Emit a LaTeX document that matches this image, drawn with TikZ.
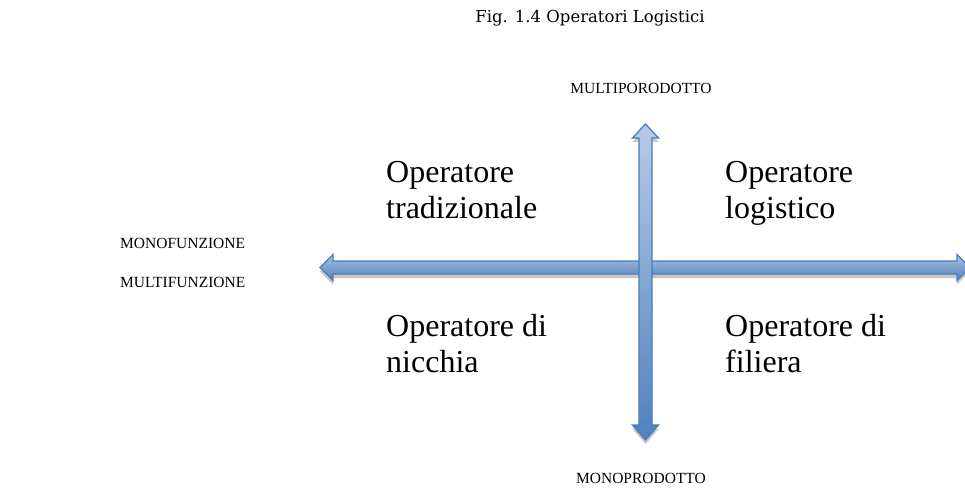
\documentclass[tikz,border=0pt]{standalone}
\usepackage{fontspec}
\setmainfont{Liberation Serif}
\newfontfamily\captionfont{DejaVu Serif}
\usetikzlibrary{shadows,positioning}
\definecolor{axisline}{RGB}{74,126,187}
\definecolor{axislight}{RGB}{170,194,226}
\definecolor{axisdark}{RGB}{79,129,189}
\tikzset{
  axisarrow/.style={draw=axisline, line width=1.3pt, line join=miter,
    drop shadow={shadow xshift=0pt, shadow yshift=-4pt, opacity=0.22, fill=black}},
  quadrant/.style={font=\fontsize{32}{36.5}\selectfont, align=left, anchor=north west, inner sep=0pt},
  polelabel/.style={font=\fontsize{15.5}{18}\selectfont, inner sep=0pt}
}

\begin{document}
\begin{tikzpicture}[x=1pt,y=-1pt]
    \clip (0,0) rectangle (965,488);
    \fill[white] (0,0) rectangle (965,488);

    % Title
    \node[font=\captionfont\fontsize{16.5}{19}\selectfont, inner sep=0pt] (title) at (590,18) {Fig. 1.4 Operatori Logistici};

    % Horizontal axis (right tip runs off the page)
    \path[axisarrow, top color=axislight, bottom color=axisdark]
      (320,267.5) -- (333,254.5) -- (333,261) -- (957,261) -- (957,254.5)
      -- (970,267.5) -- (957,280.5) -- (957,274) -- (333,274) -- (333,280.5) -- cycle;

    % Vertical axis
    \path[axisarrow, top color=axislight!85, bottom color=axisdark]
      (645.5,124) -- (658.5,138) -- (652,138) -- (652,425) -- (658.5,425)
      -- (645.5,440) -- (632.5,425) -- (639,425) -- (639,138) -- (632.5,138) -- cycle;

    % Poles
    \node[polelabel] (multiprod) at (641,88) {MULTIPORODOTTO};
    \node[polelabel] (monoprod) at (641,478) {MONOPRODOTTO};
    \node[polelabel, anchor=west] (monofun) at (120,243) {MONOFUNZIONE};
    \node[polelabel, anchor=west] (multifun) at (120,282) {MULTIFUNZIONE};

    % Quadrants
    \node[quadrant] (trad) at (386,161) {Operatore\\tradizionale};
    \node[quadrant] (logist) at (725,161) {Operatore\\logistico};
    \node[quadrant] (nicchia) at (386,314) {Operatore di\\nicchia};
    \node[quadrant] (filiera) at (725,314) {Operatore di\\filiera};
\end{tikzpicture}
\end{document}
